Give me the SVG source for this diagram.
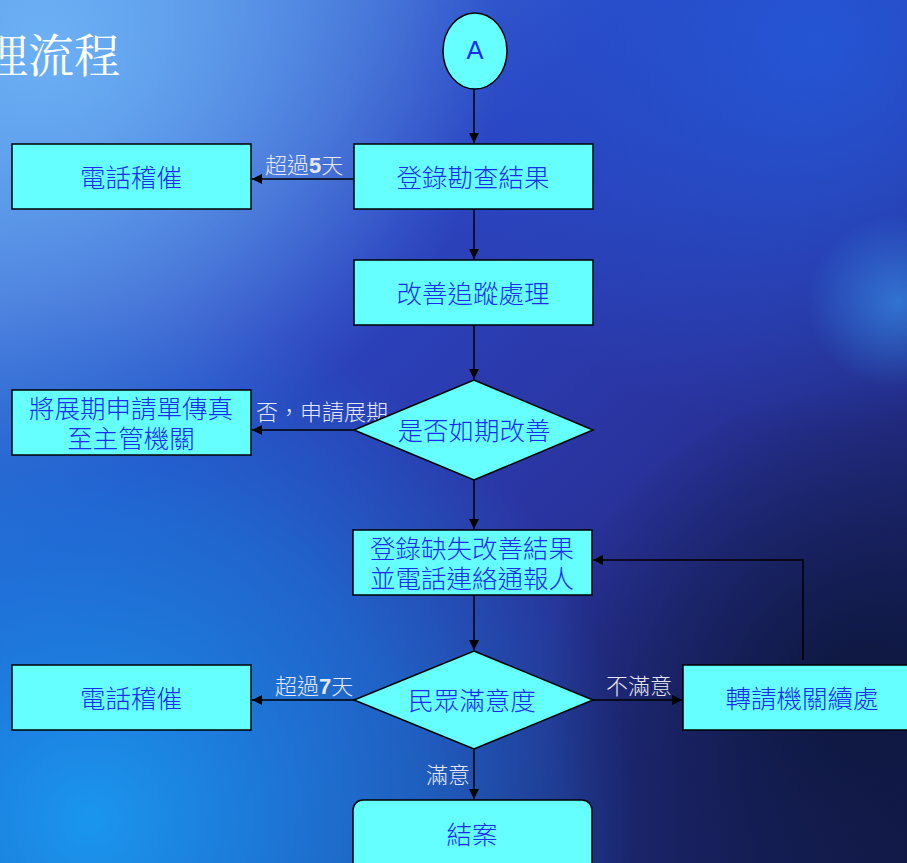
<svg xmlns="http://www.w3.org/2000/svg" width="907" height="863" viewBox="0 0 907 863">
<defs>
<linearGradient id="bg" x1="0" y1="0" x2="1" y2="1">
<stop offset="0" stop-color="#4f8ee6"/>
<stop offset="0.35" stop-color="#2b44c0"/>
<stop offset="0.6" stop-color="#2a34a0"/>
<stop offset="1" stop-color="#141c50"/>
</linearGradient>
<radialGradient id="tl" cx="0.05" cy="0.05" r="0.5">
<stop offset="0" stop-color="#6cb0f4" stop-opacity="1"/>
<stop offset="1" stop-color="#6cb0f4" stop-opacity="0"/>
</radialGradient>
<radialGradient id="tr" cx="0.9" cy="0.05" r="0.45">
<stop offset="0" stop-color="#2458d8" stop-opacity="0.9"/>
<stop offset="1" stop-color="#2458d8" stop-opacity="0"/>
</radialGradient>
<radialGradient id="bl" cx="0.1" cy="0.95" r="0.6">
<stop offset="0" stop-color="#1a96ee" stop-opacity="1"/>
<stop offset="0.6" stop-color="#1a80e0" stop-opacity="0.6"/>
<stop offset="1" stop-color="#1a80e0" stop-opacity="0"/>
</radialGradient>
<radialGradient id="br" cx="0.95" cy="0.8" r="0.35">
<stop offset="0" stop-color="#0c1638" stop-opacity="0.9"/>
<stop offset="1" stop-color="#0c1638" stop-opacity="0"/>
</radialGradient>
<radialGradient id="rg" cx="0.99" cy="0.35" r="0.1">
<stop offset="0" stop-color="#3a98ee" stop-opacity="0.6"/>
<stop offset="1" stop-color="#3a98ee" stop-opacity="0"/>
</radialGradient>
<marker id="ah" viewBox="0 0 10 10" refX="10" refY="5" markerWidth="10" markerHeight="10" markerUnits="userSpaceOnUse" orient="auto">
<path d="M0,0 L10,5 L0,10 z" fill="#000"/>
</marker>
<style>
.box{fill:#66ffff;stroke:#000;stroke-width:1.5}
.nt{font-family:"Liberation Sans","Noto Sans CJK TC",sans-serif;font-size:25.5px;font-weight:300;fill:#1a2cf0;text-anchor:middle}
.lb{font-family:"Liberation Sans","Noto Sans CJK TC",sans-serif;font-size:22px;font-weight:300;fill:#e4e8f4}
.cn{fill:none;stroke:#000;stroke-width:1.5;marker-end:url(#ah)}
</style>
</defs>
<rect width="907" height="863" fill="url(#bg)"/>
<rect width="907" height="863" fill="url(#tl)"/>
<rect width="907" height="863" fill="url(#tr)"/>
<rect width="907" height="863" fill="url(#bl)"/>
<rect width="907" height="863" fill="url(#br)"/>
<rect width="907" height="863" fill="url(#rg)"/>

<text x="-18" y="72" font-family="Noto Serif CJK TC,Noto Sans CJK TC,serif" font-size="46" fill="#ffffff">理流程</text>

<g id="connectors">
<line class="cn" x1="474" y1="89" x2="474" y2="143"/>
<line class="cn" x1="354" y1="179" x2="252" y2="179"/>
<line class="cn" x1="474" y1="209" x2="474" y2="259"/>
<line class="cn" x1="474" y1="325" x2="474" y2="379"/>
<line class="cn" x1="354" y1="430" x2="252" y2="430"/>
<line class="cn" x1="474" y1="480" x2="474" y2="529"/>
<line class="cn" x1="474" y1="595" x2="474" y2="650"/>
<line class="cn" x1="354" y1="700" x2="252" y2="700"/>
<line class="cn" x1="593" y1="700" x2="682" y2="700"/>
<polyline class="cn" points="803,660 803,560 593,560"/>
<line class="cn" x1="474" y1="749" x2="474" y2="799"/>
<text class="lb" x="265" y="173">超過<tspan font-weight="bold">5</tspan>天</text>
<text class="lb" x="256" y="420">否，申請展期</text>
<text class="lb" x="275" y="694">超過<tspan font-weight="bold">7</tspan>天</text>
<text class="lb" x="606" y="694">不滿意</text>
<text class="lb" x="426" y="783">滿意</text>
</g>

<g id="nA">
<ellipse cx="475" cy="51" rx="32" ry="38" class="box"/>
<text class="nt" x="475" y="59">A</text>
</g>
<g id="n1">
<rect class="box" x="354" y="144" width="239" height="65"/>
<text class="nt" x="473" y="187">登錄勘查結果</text>
</g>
<g id="n2">
<rect class="box" x="12" y="144" width="239" height="65"/>
<text class="nt" x="131" y="187">電話稽催</text>
</g>
<g id="n3">
<rect class="box" x="354" y="260" width="239" height="65"/>
<text class="nt" x="473" y="303">改善追蹤處理</text>
</g>
<g id="n4">
<polygon class="box" points="474,380 593,430 474,480 354,430"/>
<text class="nt" x="474" y="440">是否如期改善</text>
</g>
<g id="n5">
<rect class="box" x="12" y="390" width="239" height="65"/>
<text class="nt" x="131" y="418">將展期申請單傳真</text>
<text class="nt" x="131" y="448">至主管機關</text>
</g>
<g id="n6">
<rect class="box" x="353" y="530" width="239" height="65"/>
<text class="nt" x="472" y="558">登錄缺失改善結果</text>
<text class="nt" x="472" y="588">並電話連絡通報人</text>
</g>
<g id="n7">
<polygon class="box" points="474,651 593,700 474,749 354,700"/>
<text class="nt" x="472" y="710">民眾滿意度</text>
</g>
<g id="n8">
<rect class="box" x="12" y="665" width="239" height="65"/>
<text class="nt" x="131" y="708">電話稽催</text>
</g>
<g id="n9">
<rect class="box" x="683" y="665" width="240" height="65"/>
<text class="nt" x="802" y="708">轉請機關續處</text>
</g>
<g id="n10">
<rect class="box" x="353" y="800" width="239" height="80" rx="10"/>
<text class="nt" x="472" y="844">結案</text>
</g>
</svg>
